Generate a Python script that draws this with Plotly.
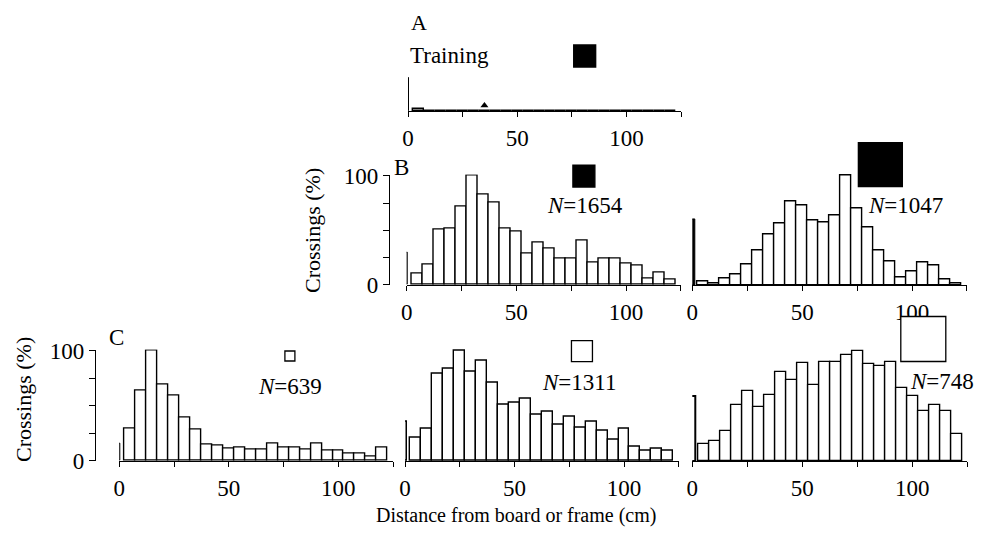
import plotly.graph_objects as go

# ---------------- data ----------------
bin_centers = [5, 10, 15, 20, 25, 30, 35, 40, 45, 50, 55, 60,
               65, 70, 75, 80, 85, 90, 95, 100, 105, 110, 115, 120]

training_vals = [1.5, 0, 0, 0, 0, 0, 0, 0, 0, 0, 0, 0,
                 0, 0, 0, 0, 0, 0, 0, 0, 0, 0, 0, 0]
training_zero = 30
training_marker_x = 35

b_board_small_vals = [10.7, 18.9, 50.3, 51.8, 71.6, 100, 82.9, 75.3, 51.8, 48.8, 29, 39,
                      33.5, 24.4, 24.4, 40.5, 20.4, 23.8, 23.8, 19.2, 17.7, 5.5, 11.3, 5.2]
b_board_small_zero = 29.6

b_board_large_vals = [3.7, 1.5, 6.1, 9.8, 18.9, 31.7, 46.6, 56.4, 76.2, 72.6, 59.5, 57.3,
                      64, 100, 70.1, 52.4, 32, 22, 6.7, 12.8, 20.4, 18.3, 5.5, 1.5]
b_board_large_zero = 60.4

c_frame_small_vals = [29, 63.4, 100, 69.5, 58.9, 39.3, 28.1, 14.5, 13.6, 11.2, 12.4, 10,
                      10.6, 15.7, 12.4, 12.4, 10, 15.7, 9.7, 9.4, 6.3, 6.3, 3.6, 11.8]
c_frame_small_zero = 15.4

c_frame_mid_vals = [21.2, 29.4, 79.4, 83.9, 100, 80.9, 90.9, 71.2, 51.5, 52.7, 56.4, 42.4,
                    45.2, 33, 40.6, 30, 35.5, 27.3, 19.7, 29.7, 13.3, 9.7, 11.2, 9.1]
c_frame_mid_zero = 36

c_frame_large_vals = [15.2, 17.9, 26.9, 50.7, 63.3, 49, 59.7, 80.3, 73.1, 88.7, 68.4, 89.6,
                      89.6, 96.4, 100, 88.1, 85.7, 90.1, 65.7, 58.8, 44.8, 50.4, 44.8, 24.8]
c_frame_large_zero = 58.8

n_labels = ["1654", "1047", "639", "1311", "748"]
x_tickvals = [0, 25, 50, 75, 100, 125]
x_ticktext = ["0", "", "50", "", "100", ""]
y_tickvals = [0, 25, 50, 75, 100]
y_ticktext = ["0", "", "", "", "100"]

# ---------------- geometry (screen pixels) ----------------
PAGE_W, PAGE_H = 989, 535
BODY = 8                      # default body margin of the html page
W, H = PAGE_W - 2 * BODY, PAGE_H - 2 * BODY
FONT = "Liberation Serif"

def px_x(p):
    return (p - BODY) / W

def px_y(p):
    return 1 - (p - BODY) / H

# x0: pixel of 0 cm, s: px per cm, base: baseline pixel, top: pixel of 100 %
panels = [
    dict(key="A", x0=408.0, s=2.184, base=111.0, top=1.7, ymax=101,
         vals=training_vals, zero=training_zero, zero_w=1.0, zero_x=0.0,
         zero_fill="black", zero_line=1.0, square=(80.9, 50.3, 22, "black")),
    dict(key="B1", x0=406.7, s=2.193, base=285.0, top=175.7, ymax=101,
         vals=b_board_small_vals, zero=b_board_small_zero, zero_w=1.2, zero_x=0.0,
         zero_fill="black", zero_line=1.0, square=(80.8, 99.7, 22, "black")),
    dict(key="B2", x0=692.3, s=2.197, base=285.0, top=175.7, ymax=135,
         vals=b_board_large_vals, zero=b_board_large_zero, zero_w=3.0, zero_x=-0.3,
         zero_fill="black", zero_line=1.0, square=(85.6, 110.2, 44, "black")),
    dict(key="C1", x0=119.3, s=2.19, base=461.0, top=350.7, ymax=101,
         vals=c_frame_small_vals, zero=c_frame_small_zero, zero_w=1.0, zero_x=0.0,
         zero_fill="black", zero_line=1.0, square=(77.9, 95.2, 10, "white")),
    dict(key="C2", x0=405.0, s=2.19, base=461.0, top=350.7, ymax=120,
         vals=c_frame_mid_vals, zero=c_frame_mid_zero, zero_w=2.0, zero_x=-0.2,
         zero_fill="#d0d0d0", zero_line=1.4, square=(80.8, 99.7, 21, "white")),
    dict(key="C3", x0=692.3, s=2.2, base=461.0, top=350.7, ymax=135,
         vals=c_frame_large_vals, zero=c_frame_large_zero, zero_w=3.0, zero_x=-0.3,
         zero_fill="white", zero_line=2.0, square=(105.0, 110.6, 45, "white")),
]

fig = go.Figure()
layout = dict(width=W, height=H, margin=dict(l=0, r=0, t=0, b=0, pad=0),
              autosize=False, template="none",
              paper_bgcolor="white", plot_bgcolor="rgba(0,0,0,0)",
              showlegend=False, bargap=0,
              font=dict(family=FONT, size=23, color="black"))

for i, p in enumerate(panels):
    n = i + 1
    xa = "x" if n == 1 else f"x{n}"
    ya = "y" if n == 1 else f"y{n}"
    xkey = "xaxis" if n == 1 else f"xaxis{n}"
    ykey = "yaxis" if n == 1 else f"yaxis{n}"

    scale = (p["base"] - p["top"]) / 100.0
    xdom = [px_x(p["x0"]), px_x(p["x0"] + 125 * p["s"])]
    ydom = [px_y(p["base"]), min(1.0, px_y(p["base"] - p["ymax"] * scale))]
    ymax = (p["base"] - (BODY + (1 - ydom[1]) * H)) / scale

    fig.add_trace(go.Bar(x=bin_centers, y=p["vals"], width=5, xaxis=xa, yaxis=ya,
                         marker=dict(color="white", line=dict(color="black", width=1.4)),
                         cliponaxis=False, hoverinfo="skip"))
    fig.add_trace(go.Bar(x=[p["zero_x"]], y=[p["zero"]], width=p["zero_w"], xaxis=xa, yaxis=ya,
                         marker=dict(color=p["zero_fill"],
                                     line=dict(color="black", width=p["zero_line"])),
                         cliponaxis=False, hoverinfo="skip"))
    sx, sy, ssize, sfill = p["square"]
    fig.add_trace(go.Scatter(x=[sx], y=[sy], mode="markers", xaxis=xa, yaxis=ya,
                             marker=dict(symbol="square", size=ssize, color=sfill,
                                         line=dict(color="black", width=1.3)),
                             cliponaxis=False, hoverinfo="skip"))
    if p["key"] == "A":
        fig.add_trace(go.Scatter(x=[training_marker_x], y=[5], mode="markers",
                                 xaxis=xa, yaxis=ya,
                                 marker=dict(symbol="triangle-up", size=7, color="black"),
                                 cliponaxis=False, hoverinfo="skip"))

    layout[xkey] = dict(domain=xdom, range=[0, 125], anchor=ya, automargin=False,
                        showline=True, linecolor="black", linewidth=1.3,
                        ticks="outside", ticklen=5, tickwidth=1.3, tickcolor="black",
                        tickvals=x_tickvals, ticktext=x_ticktext,
                        tickfont=dict(family=FONT, size=23),
                        showgrid=False, zeroline=False, fixedrange=True,
                        ticklabelstandoff=1)
    if p["key"] in ("B1", "C1"):
        ypos = 389 if p["key"] == "B1" else 95
        layout[ykey] = dict(domain=ydom, range=[0, ymax], anchor="free",
                            position=px_x(ypos), automargin=False,
                            showline=True, linecolor="black", linewidth=1.3,
                            ticks="outside", ticklen=6, tickwidth=1.3, tickcolor="black",
                            tickvals=y_tickvals, ticktext=y_ticktext,
                            tickfont=dict(family=FONT, size=23),
                            showgrid=False, zeroline=False, fixedrange=True)
    else:
        layout[ykey] = dict(domain=ydom, range=[0, ymax], anchor=xa, automargin=False,
                            visible=False, showgrid=False, zeroline=False,
                            fixedrange=True)

annotations = []

def txt(text, x, y, angle=0, size=23):
    annotations.append(dict(text=text, x=px_x(x), y=px_y(y), xref="paper", yref="paper",
                            showarrow=False, xanchor="center", yanchor="middle",
                            borderpad=0, textangle=angle,
                            font=dict(family=FONT, size=size, color="black")))

txt("A", 419, 22, size=22)
txt("Training", 449, 56)
txt("B", 401, 168)
txt("C", 116, 337)
txt(f"<i>N</i>={n_labels[0]}", 585, 206)
txt(f"<i>N</i>={n_labels[1]}", 905, 205)
txt(f"<i>N</i>={n_labels[2]}", 290, 386)
txt(f"<i>N</i>={n_labels[3]}", 579, 382)
txt(f"<i>N</i>={n_labels[4]}", 942, 381)
txt("Crossings (%)", 312, 231, angle=-90, size=22)
txt("Crossings (%)", 23, 400, angle=-90, size=22)
txt("Distance from board or frame (cm)", 516, 515, size=20)

layout["annotations"] = annotations
fig.update_layout(**layout)
fig.write_html("out.html")
